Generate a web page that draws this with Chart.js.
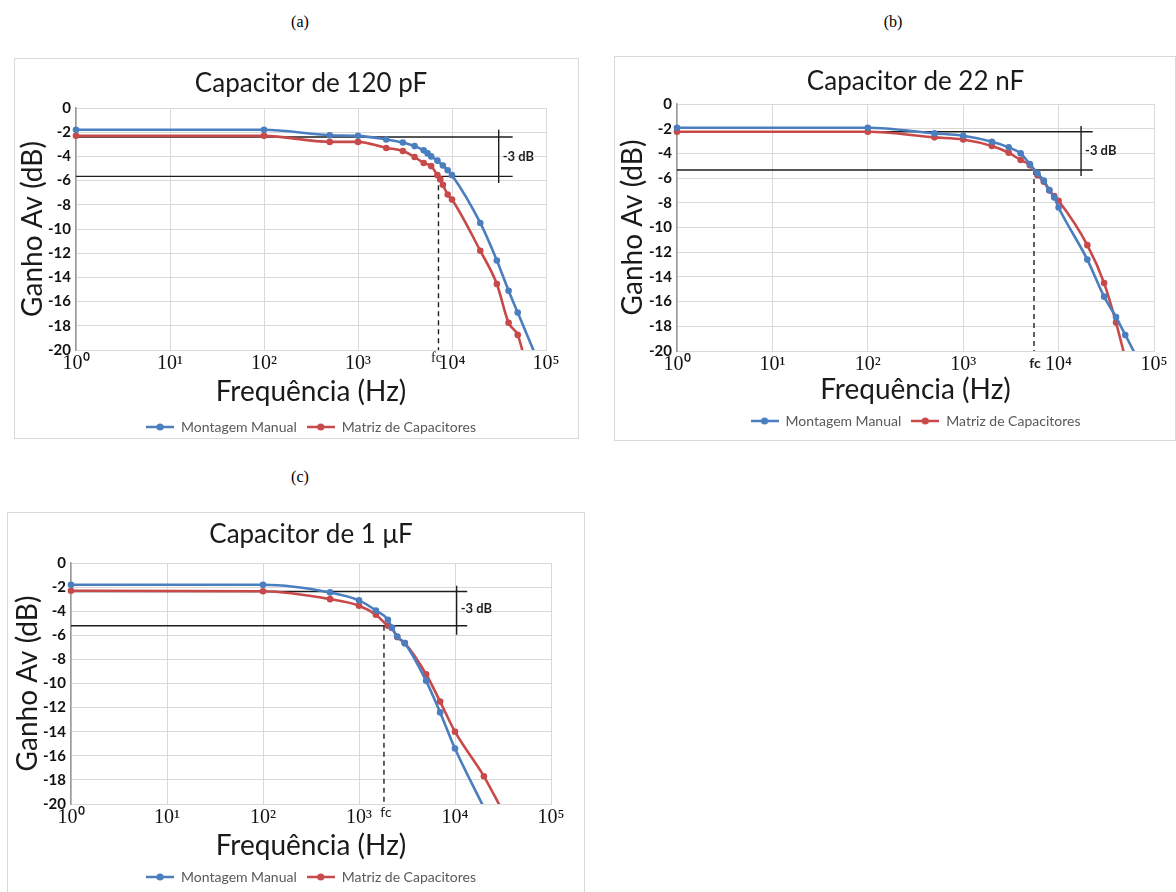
<!DOCTYPE html>
<html><head><meta charset="utf-8">
<script src="https://cdn.jsdelivr.net/npm/chart.js@4.4.1/dist/chart.umd.min.js"></script>
<style>
html,body{margin:0;padding:0;background:#fff;}
body{width:1176px;height:892px;overflow:hidden;position:relative;}
.lbl{position:absolute;font-family:"Liberation Serif","Times New Roman",serif;font-size:16px;color:#000;transform:translateX(-50%);}
.box{position:absolute;border:1px solid #d9d9d9;box-sizing:border-box;background:#fff;}
canvas{position:absolute;}
</style></head>
<body>
<div class="lbl" style="left:300px;top:13px">(a)</div>
<div class="lbl" style="left:893px;top:13px">(b)</div>
<div class="lbl" style="left:300px;top:468px">(c)</div>
<div class="box" style="left:14px;top:58px;width:565px;height:381px"></div>
<div class="box" style="left:614px;top:56px;width:562px;height:385px"></div>
<div class="box" style="left:7px;top:512px;width:578px;height:382px"></div>
<canvas id="cA"></canvas>
<canvas id="cB"></canvas>
<canvas id="cC"></canvas>
<script>
// ---------- texts ----------
const seriesNames = ['Montagem Manual', 'Matriz de Capacitores'];
const xAxisTitle = 'Frequência (Hz)';
const yAxisTitle = 'Ganho Av (dB)';
const titles = ['Capacitor de 120 pF', 'Capacitor de 22 nF', 'Capacitor de 1 μF'];
const xTickValues = [1, 10, 100, 1000, 10000, 100000];
const xTickExponents = ['⁰', '¹', '²', '³', '⁴', '⁵'];
const yTickMin = -20, yTickMax = 0, yTickStep = 2;

// ---------- (a) Capacitor de 120 pF ----------
const freqA_manual = [1, 100, 500, 1000, 2000, 3000, 4000, 5000, 5500, 6000, 7000, 8000, 9000, 10000, 20000, 30000, 40000, 50000, 100000];
const gainA_manual = [-1.8, -1.8, -2.25, -2.3, -2.6, -2.85, -3.15, -3.5, -3.75, -4.0, -4.35, -4.75, -5.15, -5.55, -9.5, -12.6, -15.1, -16.9, -22.5];
const freqA_matrix = [1, 100, 500, 1000, 2000, 3000, 4000, 5000, 6000, 7000, 7500, 8000, 9000, 10000, 20000, 30000, 40000, 50000, 60000];
const gainA_matrix = [-2.3, -2.3, -2.8, -2.8, -3.3, -3.55, -4.05, -4.55, -4.8, -5.55, -5.9, -6.35, -7.15, -7.57, -11.8, -14.55, -17.75, -18.75, -20.9];
const levelsA = [-2.4, -5.65];       // -3 dB reference levels
const fcA = 7180;                    // cut-off frequency (Hz)
const refEndA = 44200;               // end of reference lines (Hz)
const bracketA = [31400, -1.8, -6.2];// bracket: freq, top, bottom

// ---------- (b) Capacitor de 22 nF ----------
const freqB_manual = [1, 100, 500, 1000, 2000, 3000, 4000, 5000, 6000, 7000, 8000, 9000, 10000, 20000, 30000, 40000, 50000, 100000];
const gainB_manual = [-1.92, -1.92, -2.38, -2.57, -3.06, -3.51, -4.0, -4.87, -5.62, -6.2, -6.97, -7.57, -8.38, -12.6, -15.6, -17.25, -18.7, -23.2];
const freqB_matrix = [1, 100, 500, 1000, 2000, 3000, 4000, 5000, 6000, 7000, 8000, 9000, 10000, 20000, 30000, 40000, 50000];
const gainB_matrix = [-2.25, -2.25, -2.7, -2.87, -3.4, -3.95, -4.54, -4.95, -5.76, -6.3, -7.0, -7.46, -7.84, -11.43, -14.5, -17.7, -20.6];
const levelsB = [-2.25, -5.35];
const fcB = 5520;
const refEndB = 22800;
const bracketB = [17200, -1.78, -5.84];

// ---------- (c) Capacitor de 1 uF ----------
const freqC_manual = [1, 100, 500, 1000, 1500, 2000, 2200, 2500, 3000, 5000, 7000, 10000, 20000];
const gainC_manual = [-1.8, -1.8, -2.44, -3.1, -3.94, -4.71, -5.35, -6.1, -6.65, -9.78, -12.4, -15.4, -20.3];
const freqC_matrix = [1, 100, 500, 1000, 1500, 2000, 2200, 2500, 3000, 5000, 7000, 10000, 20000, 30000];
const gainC_matrix = [-2.3, -2.35, -3.0, -3.55, -4.3, -5.21, -5.4, -6.15, -6.65, -9.23, -11.5, -14.0, -17.7, -20.3];
const levelsC = [-2.36, -5.21];
const fcC = 1820;
const refEndC = 13400;
const bracketC = [10400, -1.89, -5.96];

// ---------- styling ----------
const BLUE = '#4a7ebf', RED = '#c8494a', INK = '#1e1e1e';
const TITLE_FONT = 'Lato, "Open Sans", sans-serif';

function legendIcon(color) {
  const c = document.createElement('canvas');
  c.width = 28; c.height = 10;
  const g = c.getContext('2d');
  g.strokeStyle = color; g.lineWidth = 2.5;
  g.beginPath(); g.moveTo(0, 5); g.lineTo(28, 5); g.stroke();
  g.fillStyle = color; g.beginPath(); g.arc(14, 5, 3.6, 0, Math.PI * 2); g.fill();
  return c;
}
const icons = [legendIcon(BLUE), legendIcon(RED)];

const annoText = {
  id: 'annoText',
  afterDatasetsDraw(chart, args, o) {
    const {ctx, scales: {x, y}} = chart;
    ctx.save();
    ctx.fillStyle = INK;
    ctx.textBaseline = 'middle';
    ctx.textAlign = 'left';
    ctx.font = o.dbFont;
    ctx.fillText('-3 dB', x.getPixelForValue(o.bracketX) + 4, y.getPixelForValue((o.levels[0] + o.levels[1]) / 2));
    ctx.textAlign = 'center';
    ctx.font = o.fcFont;
    ctx.fillText('fc', x.getPixelForValue(o.fc) + o.fcDx, y.getPixelForValue(yTickMin) + o.fcDy);
    ctx.restore();
  }
};

function pts(f, g) { return f.map((v, i) => ({x: v, y: g[i]})); }

function makeChart(id, L, S) {
  const cv = document.getElementById(id);
  cv.width = L.cw; cv.height = L.ch;
  cv.style.left = L.cx + 'px'; cv.style.top = L.cy + 'px';
  cv.style.width = L.cw + 'px'; cv.style.height = L.ch + 'px';
  const TS = 26, XS = 28, LS = 14, LP = 10;
  const titlePadTop = L.titleY - L.cy - TS / 2;
  const titlePadBottom = (L.plotT - L.cy) - TS - titlePadTop;
  const legendTop = L.ch - LS - LP - 10;
  const xH = legendTop - (L.plotB - L.cy);
  const xTitlePadBottom = legendTop - XS / 2 - (L.xTitleY - L.cy);
  const yW = L.plotL - L.cx;
  const yTitlePadTop = (L.yTitleX - L.cx) - XS / 2;
  const padRight = L.cx + L.cw - L.plotR;
  const edgeClip = {left: 6, top: 6, right: 0, bottom: 0};

  const series = (label, data, color) => ({
    label, data, borderColor: color, backgroundColor: color,
    borderWidth: 2.6, pointRadius: 3.3, pointHoverRadius: 3.3, pointBorderWidth: 0,
    pointBackgroundColor: color, cubicInterpolationMode: 'monotone', clip: edgeClip, order: 1
  });
  const refLine = (data, dash) => ({
    label: '', data, borderColor: INK, borderWidth: 1.4, borderDash: dash || [],
    pointRadius: 0, pointHoverRadius: 0, tension: 0, clip: false, order: 5
  });

  return new Chart(cv, {
    type: 'line',
    data: {
      datasets: [
        series(seriesNames[0], pts(S.fm, S.gm), BLUE),
        series(seriesNames[1], pts(S.fx, S.gx), RED),
        refLine([{x: xTickValues[0], y: S.levels[0]}, {x: S.refEnd, y: S.levels[0]}]),
        refLine([{x: xTickValues[0], y: S.levels[1]}, {x: S.refEnd, y: S.levels[1]}]),
        refLine([{x: S.bracket[0], y: S.bracket[1]}, {x: S.bracket[0], y: S.bracket[2]}]),
        refLine([{x: S.fc, y: S.levels[1]}, {x: S.fc, y: yTickMin}], [5, 4])
      ]
    },
    options: {
      responsive: false, animation: false, devicePixelRatio: 1,
      layout: {padding: {left: 0, top: 0, right: padRight, bottom: 0}},
      scales: {
        x: {
          type: 'logarithmic', min: xTickValues[0], max: xTickValues[xTickValues.length - 1],
          afterBuildTicks: (sc) => { sc.ticks = xTickValues.map(v => ({value: v})); },
          afterFit: (sc) => { sc.height = xH; },
          ticks: {
            autoSkip: false, maxRotation: 0, padding: L.xTickPad, color: '#111',
            font: {family: '"Liberation Serif", "Times New Roman", serif', size: 20, lineHeight: 1.2},
            callback: (v) => { const i = xTickValues.indexOf(v); return i >= 0 ? '10' + xTickExponents[i] : ''; }
          },
          grid: {color: '#d9d9d9', lineWidth: 1, drawTicks: false},
          border: {color: '#d9d9d9', width: 1},
          title: {display: true, text: xAxisTitle, color: '#1a1a1a',
            font: {family: TITLE_FONT, size: XS, lineHeight: 1},
            padding: {top: 0, bottom: xTitlePadBottom}}
        },
        y: {
          type: 'linear', min: yTickMin, max: yTickMax,
          afterFit: (sc) => { sc.width = yW; },
          ticks: {stepSize: yTickStep, padding: 5, color: '#111',
            font: {family: TITLE_FONT, size: 15, weight: 'bold'},
            callback: (v) => (v === 0 ? '0' : String(v))},
          grid: {color: '#d9d9d9', lineWidth: 1, drawTicks: false},
          border: {color: '#9a9a9a', width: 1.5},
          title: {display: true, text: yAxisTitle, color: '#1a1a1a',
            font: {family: TITLE_FONT, size: XS, lineHeight: 1},
            padding: {top: yTitlePadTop, bottom: 0}}
        }
      },
      plugins: {
        title: {display: true, text: S.title, fullSize: false, color: '#1a1a1a',
          font: {family: TITLE_FONT, size: TS, weight: 'normal', lineHeight: 1},
          padding: {top: titlePadTop, bottom: titlePadBottom}},
        legend: {
          display: true, position: 'bottom', fullSize: false,
          labels: {
            usePointStyle: true, pointStyleWidth: 28, padding: LP, color: '#595959',
            font: {family: TITLE_FONT, size: LS},
            generateLabels: (chart) => Chart.defaults.plugins.legend.labels.generateLabels(chart)
              .filter(it => it.datasetIndex < 2)
              .map(it => Object.assign(it, {pointStyle: icons[it.datasetIndex]}))
          }
        },
        tooltip: {enabled: false},
        annoText: {levels: S.levels, bracketX: S.bracket[0], fc: S.fc,
          dbFont: 'bold 13px ' + TITLE_FONT, fcFont: L.fcFont, fcDx: L.fcDx, fcDy: L.fcDy}
      }
    },
    plugins: [annoText]
  });
}

function start() {
  makeChart('cA',
    {cx: 14, cy: 58, cw: 565, ch: 386, plotL: 76, plotR: 546, plotT: 108, plotB: 350,
     titleY: 84, xTitleY: 392, yTitleX: 33, xTickPad: 2, fcFont: '14px "Liberation Serif", serif', fcDx: -2, fcDy: 8},
    {fm: freqA_manual, gm: gainA_manual, fx: freqA_matrix, gx: gainA_matrix, levels: levelsA, fc: fcA,
     refEnd: refEndA, bracket: bracketA, title: titles[0]});
  makeChart('cB',
    {cx: 614, cy: 56, cw: 562, ch: 382, plotL: 677, plotR: 1154, plotT: 104, plotB: 351,
     titleY: 82, xTitleY: 390, yTitleX: 633, xTickPad: 2, fcFont: 'bold 14px ' + TITLE_FONT, fcDx: 1, fcDy: 12},
    {fm: freqB_manual, gm: gainB_manual, fx: freqB_matrix, gx: gainB_matrix, levels: levelsB, fc: fcB,
     refEnd: refEndB, bracket: bracketB, title: titles[1]});
  makeChart('cC',
    {cx: 7, cy: 512, cw: 578, ch: 382, plotL: 71, plotR: 551, plotT: 563, plotB: 804,
     titleY: 535, xTitleY: 846, yTitleX: 28, xTickPad: 2, fcFont: '14px ' + TITLE_FONT, fcDx: 2, fcDy: 8},
    {fm: freqC_manual, gm: gainC_manual, fx: freqC_matrix, gx: gainC_matrix, levels: levelsC, fc: fcC,
     refEnd: refEndC, bracket: bracketC, title: titles[2]});
}
if (document.fonts && document.fonts.load) {
  Promise.all([document.fonts.load('26px Lato'), document.fonts.load('bold 15px Lato'), document.fonts.load('20px "Liberation Serif"')])
    .then(start, start);
} else { start(); }
</script>
</body></html>
